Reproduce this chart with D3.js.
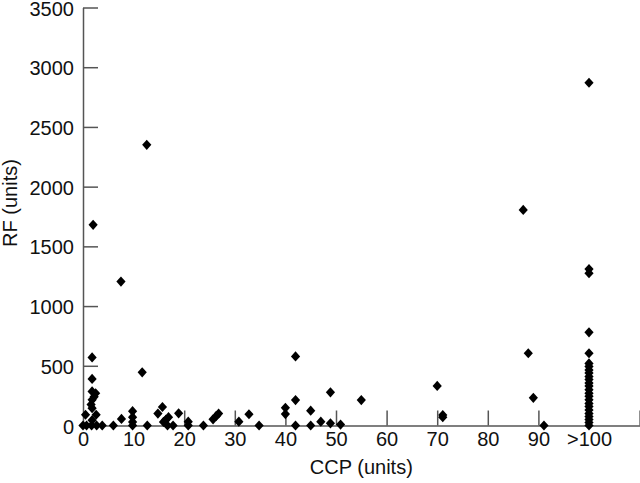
<!DOCTYPE html>
<html>
<head>
<meta charset="utf-8">
<script src="https://cdn.jsdelivr.net/npm/d3@7"></script>
<style>
  body { margin: 0; background: #fff; }
  svg { display: block; }
  .axis text { font-family: "Liberation Sans", Arial, sans-serif; font-size: 20px; fill: #111; }
  .axis path, .axis line { stroke: #555; stroke-width: 1.5; }
  .title { font-family: "Liberation Sans", Arial, sans-serif; font-size: 20px; fill: #111; }
</style>
</head>
<body>
<svg width="640" height="483"></svg>
<script>
// DATA

  var ccp = [
    2, 1.8, 1.8, 1.8, 2.5, 2.2, 1.8, 1.6, 1.8, 0.5, 2.6, 1.8, 0, 0.7, 1.7, 2.7, 3.8,
    6, 7.6, 7.5, 9.8, 9.8, 9.8, 9.8, 11.7, 12.6, 12.7, 14.8, 15.7, 15.9, 16.4, 16.9, 16.7, 17.8, 18.9,
    20.8, 20.8, 23.8, 25.7, 26.3, 26.8, 30.8, 32.8, 34.8,
    40, 40, 42, 42, 42, 45, 45, 47, 48.9, 48.9, 50.9, 55,
    70, 71.1, 71.1, 87, 88, 89, 91.1,
    100, 100, 100, 100, 100, 100, 100, 100, 100, 100, 100, 100, 100, 100, 100, 100, 100, 100, 100, 100, 100, 100, 100, 100, 100
  ];

  var rf = [
    1680, 570, 390, 285, 270, 240, 215, 175, 145, 90, 90, 45, 0, 0, 0, 0, 0,
    0, 55, 1205, 120, 70, 30, 0, 445, 2350, 0, 100, 155, 30, 50, 70, 0, 0, 102,
    32, 0, 0, 52, 78, 100, 32, 94, 0,
    148, 96, 578, 213, 0, 124, 0, 32, 278, 18, 8, 213,
    331, 88, 70, 1805, 605, 232, 0,
    2870, 1310, 1275, 780, 605, 520, 495, 465, 440, 410, 385, 355, 330, 300, 270, 245, 215, 185, 160, 130, 100, 75, 50, 25, 0
  ];

  var xTicks = [0, 10, 20, 30, 40, 50, 60, 70, 80, 90, 100, 110];
  var xTickLabels = ["0", "10", "20", "30", "40", "50", "60", "70", "80", "90", ">100", ""];
  var yTicks = [0, 500, 1000, 1500, 2000, 2500, 3000, 3500];

// SETUP

  var svg = d3.select("svg"),
    margin = { top: 7.5, right: 0.4, bottom: 57.5, left: 83 },
    width = 640 - margin.left - margin.right,
    height = 483 - margin.top - margin.bottom;

  var x = d3.scaleLinear().domain([0, 110]).range([0, width]),
    y = d3.scaleLinear().domain([0, 3500]).range([height, 0]);

  var g = svg.append("g")
    .attr("transform", "translate(" + margin.left + "," + margin.top + ")");

  g.append("g")
    .attr("class", "axis axis--x")
    .attr("transform", "translate(0," + height + ")")
    .call(d3.axisBottom(x)
      .tickValues(xTicks)
      .tickSizeInner(-15)
      .tickSizeOuter(0)
      .tickPadding(6)
      .tickFormat(function (d, i) { return xTickLabels[i]; }));

  // the 0 tick sits on the y axis
  g.select(".axis--x").selectAll(".tick line")
    .filter(function (d) { return d === 0; })
    .remove();

  g.append("g")
    .attr("class", "axis axis--y")
    .call(d3.axisLeft(y)
      .tickValues(yTicks)
      .tickSizeInner(-15)
      .tickSizeOuter(0)
      .tickPadding(9)
      .tickFormat(d3.format("d")));

  g.select(".axis--y").selectAll(".tick text").attr("dy", "0.38em");

  svg.append("text")
    .attr("class", "title")
    .attr("x", margin.left + x(55))
    .attr("y", 474)
    .attr("text-anchor", "middle")
    .text("CCP (units)");

  svg.append("text")
    .attr("class", "title")
    .attr("transform", "translate(17," + 203 + ") rotate(-90)")
    .attr("text-anchor", "middle")
    .text("RF (units)");

// POINTS

  var diamond = "M0,-5.1L4.6,0L0,5.1L-4.6,0Z";

  g.selectAll(".pt")
    .data(d3.range(ccp.length))
    .enter().append("path")
    .attr("class", "pt")
    .attr("d", diamond)
    .attr("fill", "#000")
    .attr("transform", function (i) { return "translate(" + x(ccp[i]) + "," + y(rf[i]) + ")"; });
</script>
</body>
</html>
